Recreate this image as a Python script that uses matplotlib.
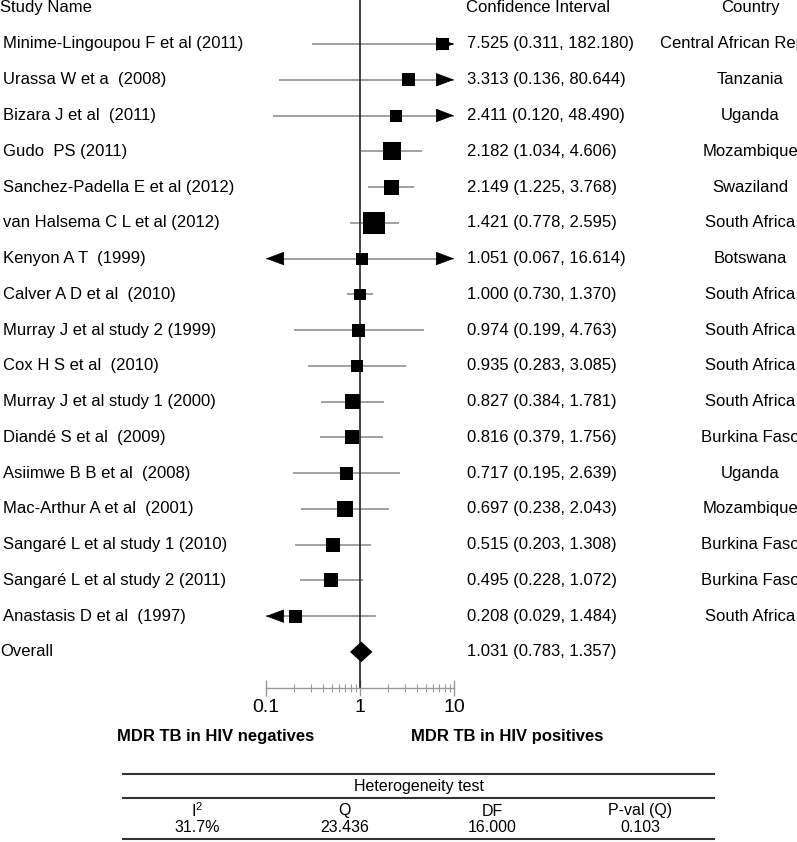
import numpy as np
import matplotlib
matplotlib.use("Agg")
import matplotlib.pyplot as plt
import matplotlib.transforms as mtransforms
from matplotlib.lines import Line2D
from matplotlib.ticker import FixedLocator, NullFormatter

plt.rcParams['font.family'] = ['Liberation Sans', 'DejaVu Sans']
plt.rcParams['mathtext.default'] = 'regular'

# ---------------- data ----------------
studies = ["Minime-Lingoupou F et al (2011)", "Urassa W et a  (2008)", "Bizara J et al  (2011)",
           "Gudo  PS (2011)", "Sanchez-Padella E et al (2012)", "van Halsema C L et al (2012)",
           "Kenyon A T  (1999)", "Calver A D et al  (2010)", "Murray J et al study 2 (1999)",
           "Cox H S et al  (2010)", "Murray J et al study 1 (2000)", "Diandé S et al  (2009)",
           "Asiimwe B B et al  (2008)", "Mac-Arthur A et al  (2001)", "Sangaré L et al study 1 (2010)",
           "Sangaré L et al study 2 (2011)", "Anastasis D et al  (1997)"]
odds = [7.525, 3.313, 2.411, 2.182, 2.149, 1.421, 1.051, 1.000, 0.974, 0.935,
        0.827, 0.816, 0.717, 0.697, 0.515, 0.495, 0.208]
lower = [0.311, 0.136, 0.120, 1.034, 1.225, 0.778, 0.067, 0.730, 0.199, 0.283,
         0.384, 0.379, 0.195, 0.238, 0.203, 0.228, 0.029]
upper = [182.180, 80.644, 48.490, 4.606, 3.768, 2.595, 16.614, 1.370, 4.763, 3.085,
         1.781, 1.756, 2.639, 2.043, 1.308, 1.072, 1.484]
countries = ["Central African Republic", "Tanzania", "Uganda", "Mozambique", "Swaziland",
             "South Africa", "Botswana", "South Africa", "South Africa", "South Africa",
             "South Africa", "Burkina Faso", "Uganda", "Mozambique", "Burkina Faso",
             "Burkina Faso", "South Africa"]
weights = [4.8, 4.8, 4.1, 9.3, 6.4, 13.8, 4.1, 3.5, 4.8, 4.1, 6.4, 5.6, 4.8, 7.3, 5.6, 5.6, 4.8]
overall = (1.031, 0.783, 1.357)
tick_vals = [0.1, 1, 10]
tick_labels = ["0.1", "1", "10"]
het_headers = ["I$^{2}$", "Q", "DF", "P-val (Q)"]
het_values = ["31.7%", "23.436", "16.000", "0.103"]

# ---------------- figure ----------------
W, H = 797, 842
fig = plt.figure(figsize=(W / 100, H / 100), dpi=100)

def fx(px):
    return px / W

def fy(py):
    return 1 - py / H

ax_left, ax_right, ax_top, ax_bot = 266, 454, 0, 688
ax = fig.add_axes([fx(ax_left), fy(ax_bot), fx(ax_right - ax_left), (ax_bot - ax_top) / H])
ax.set_xscale('log')
ax.set_xlim(0.1, 10)
row0_px, row_step = 44, 35.76
ax.set_ylim((ax_bot - row0_px) / row_step, (ax_top - row0_px) / row_step)

for s in ['top', 'left', 'right']:
    ax.spines[s].set_visible(False)
ax.spines['bottom'].set_color('#999999')
ax.spines['bottom'].set_linewidth(1.0)
ax.set_yticks([])
ax.xaxis.set_major_locator(FixedLocator(tick_vals))
ax.set_xticklabels(tick_labels)
minor = [m * d for d in (0.1, 1) for m in range(2, 10)]
ax.xaxis.set_minor_locator(FixedLocator(minor))
ax.xaxis.set_minor_formatter(NullFormatter())
ax.tick_params(axis='x', which='major', direction='inout', length=12, width=1.0,
               color='#999999', labelsize=14, pad=2, labelcolor='black')
ax.tick_params(axis='x', which='minor', direction='inout', length=6, width=0.8, color='#999999')

ax.axvline(1, color='#222222', lw=1.2, zorder=2)

n = len(studies)
rows = np.arange(n)
gray = '#9a9a9a'
lo_c = np.clip(lower, 0.1, 10)
hi_c = np.clip(upper, 0.1, 10)
ax.hlines(rows, lo_c, hi_c, color=gray, lw=1.3, zorder=1)

arrow_kw = dict(arrowstyle='-|>,head_length=1.2,head_width=0.45', color='black',
                lw=0.5, shrinkA=0, shrinkB=0, mutation_scale=10)
for i in range(n):
    if upper[i] > 10:
        ax.annotate('', xy=(10, rows[i]), xytext=(-12, 0), textcoords='offset points',
                    arrowprops=arrow_kw, annotation_clip=False, zorder=3)
    if lower[i] < 0.1:
        ax.annotate('', xy=(0.1, rows[i]), xytext=(12, 0), textcoords='offset points',
                    arrowprops=arrow_kw, annotation_clip=False, zorder=3)

side_pt = np.sqrt(np.array(weights)) * 5.92 * 0.72
ax.scatter(odds, rows, s=side_pt ** 2, marker='s', color='black', zorder=4, linewidths=0)

# overall diamond
oy = n
dh = 0.29
ax.fill([overall[1], overall[0], overall[2], overall[0]],
        [oy, oy - dh, oy, oy + dh], color='black', zorder=4, lw=0)

# ---------------- text columns ----------------
tr = mtransforms.blended_transform_factory(fig.transFigure, ax.transData)
fs = 12
hy = (8 - row0_px) / row_step
ax.text(fx(0), hy, "Study Name", transform=tr, fontsize=fs, va='center', ha='left')
ax.text(fx(466), hy, "Confidence Interval", transform=tr, fontsize=fs, va='center', ha='left')
ax.text(fx(750), hy, "Country", transform=tr, fontsize=fs, va='center', ha='center')
for i in range(n):
    ax.text(fx(3), rows[i], studies[i], transform=tr, fontsize=fs, va='center', ha='left')
    ax.text(fx(467), rows[i], f"{odds[i]:.3f} ({lower[i]:.3f}, {upper[i]:.3f})",
            transform=tr, fontsize=fs, va='center', ha='left')
    ax.text(fx(750), rows[i], countries[i], transform=tr, fontsize=fs, va='center', ha='center')
ax.text(fx(0), oy, "Overall", transform=tr, fontsize=fs, va='center', ha='left')
ax.text(fx(467), oy, f"{overall[0]:.3f} ({overall[1]:.3f}, {overall[2]:.3f})",
        transform=tr, fontsize=fs, va='center', ha='left')

fig.text(fx(216), fy(736), "MDR TB in HIV negatives", fontsize=12, fontweight='bold',
         ha='center', va='center')
fig.text(fx(507), fy(736), "MDR TB in HIV positives", fontsize=12, fontweight='bold',
         ha='center', va='center')

# ---------------- heterogeneity table ----------------
tx0, tx1 = 123, 714
for py, lw in [(774, 1.5), (798, 1.5), (839, 1.5)]:
    fig.add_artist(Line2D([fx(tx0), fx(tx1)], [fy(py), fy(py)], transform=fig.transFigure,
                          color='#333333', lw=lw))
tfs = 11.5
fig.text(fx((tx0 + tx1) / 2), fy(787), "Heterogeneity test", fontsize=tfs, ha='center', va='center')
colw = (tx1 - tx0) / 4
for j in range(4):
    cx = tx0 + colw * (j + 0.5)
    fig.text(fx(cx), fy(811), het_headers[j], fontsize=tfs, ha='center', va='center')
    fig.text(fx(cx), fy(828), het_values[j], fontsize=tfs, ha='center', va='center')

fig.savefig("out.png", dpi=100)
